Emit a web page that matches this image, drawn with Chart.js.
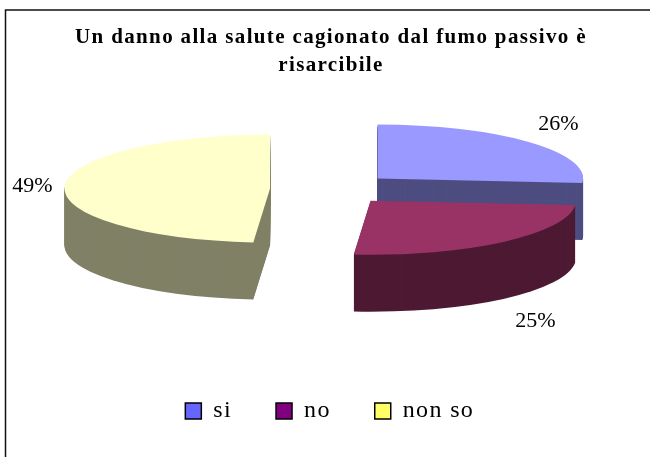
<!DOCTYPE html>
<html>
<head>
<meta charset="utf-8">
<style>html,body{margin:0;padding:0;background:#fff}canvas{display:block}</style>
<script src="https://cdn.jsdelivr.net/npm/chart.js@4"></script>
</head>
<body>
<canvas id="c" width="650" height="457"></canvas>
<script>
const categories = ['si', 'no', 'non so'];
const values = [26.3, 25.0, 48.7];
const topColors = ['#9999FF', '#993366', '#FFFFCC'];
const wallColors = ['#4D4D80', '#4D1933', '#808066'];
const legendColors = ['#6666FF', '#800080', '#FFFF66'];
const titleLines = ['Un danno alla salute cagionato dal fumo passivo è', 'risarcibile'];

const SERIF = '"Liberation Serif","Times New Roman",serif';
const pie3d = { cx: 332, cy: 189.2, tilt: 0.263, offsetTilt: 0.253, depth: 57, explode: [62, 59.5, 62], order: [0, 2, 1] };
const labelAnchors = [[558.5, 130], [535.5, 327], [32.5, 192]];

const fakePie = {
  id: 'fakePie',
  beforeUpdate(chart) { chart.ctx.letterSpacing = '1.35px'; },
  afterLayout(chart) { chart.legend.left -= 2.5; },
  beforeDraw(chart) {
    const ctx = chart.ctx;
    ctx.save();
    ctx.fillStyle = '#fff';
    ctx.fillRect(0, 0, chart.width, chart.height);
    ctx.strokeStyle = '#111';
    ctx.lineWidth = 1.5;
    ctx.beginPath();
    ctx.moveTo(5.5, chart.height);
    ctx.lineTo(5.5, 10);
    ctx.lineTo(chart.width, 10);
    ctx.stroke();
    ctx.restore();
  },
  beforeDatasetDraw(chart, args) {
    const ctx = chart.ctx;
    const arcs = chart.getDatasetMeta(args.index).data;
    pie3d.order.forEach(i => {
      const a = arcs[i];
      const mid = (a.startAngle + a.endAngle) / 2;
      const tx = pie3d.cx + Math.cos(mid) * pie3d.explode[i];
      const ty = pie3d.cy + Math.sin(mid) * pie3d.explode[i] * pie3d.offsetTilt;
      for (let d = pie3d.depth; d >= 1; d--) {
        ctx.save();
        ctx.translate(tx, ty + d);
        ctx.scale(1, pie3d.tilt);
        ctx.fillStyle = wallColors[i];
        ctx.beginPath();
        ctx.moveTo(0, 0);
        ctx.arc(0, 0, a.outerRadius, a.startAngle, a.endAngle);
        ctx.closePath();
        ctx.fill();
        ctx.restore();
      }
      ctx.save();
      ctx.translate(tx, ty);
      ctx.scale(1, pie3d.tilt);
      ctx.translate(-a.x, -a.y);
      a.draw(ctx);
      ctx.restore();
    });
    ctx.letterSpacing = '1px';
    return false;
  },
  afterDraw(chart) {
    const ctx = chart.ctx;
    ctx.save();
    ctx.letterSpacing = '0px';
    ctx.fillStyle = '#000';
    ctx.font = '22px ' + SERIF;
    ctx.textAlign = 'center';
    ctx.textBaseline = 'alphabetic';
    values.forEach((v, i) => {
      ctx.fillText(Math.round(v) + '%', labelAnchors[i][0], labelAnchors[i][1]);
    });
    ctx.restore();
    ctx.letterSpacing = '1.35px';
  }
};

new Chart(document.getElementById('c'), {
  type: 'pie',
  data: {
    labels: categories,
    datasets: [{ data: values, backgroundColor: topColors, borderWidth: 0 }]
  },
  plugins: [fakePie],
  options: {
    responsive: false,
    animation: false,
    radius: 205.5,
    layout: { padding: { left: 12, right: 0, top: 12, bottom: 24 } },
    plugins: {
      tooltip: { enabled: false },
      title: {
        display: true,
        text: titleLines,
        color: '#000',
        font: { family: SERIF, size: 21, weight: 'bold', lineHeight: 1.33 },
        padding: { top: 12, bottom: 0 }
      },
      legend: {
        display: true,
        position: 'bottom',
        labels: {
          color: '#000',
          boxWidth: 16,
          boxHeight: 16,
          padding: 44,
          font: { family: SERIF, size: 24 },
          generateLabels: () => categories.map((t, i) => ({
            text: t, fillStyle: legendColors[i], strokeStyle: '#000', lineWidth: 1.5, hidden: false, index: i
          }))
        }
      }
    }
  }
});
</script>
</body>
</html>
